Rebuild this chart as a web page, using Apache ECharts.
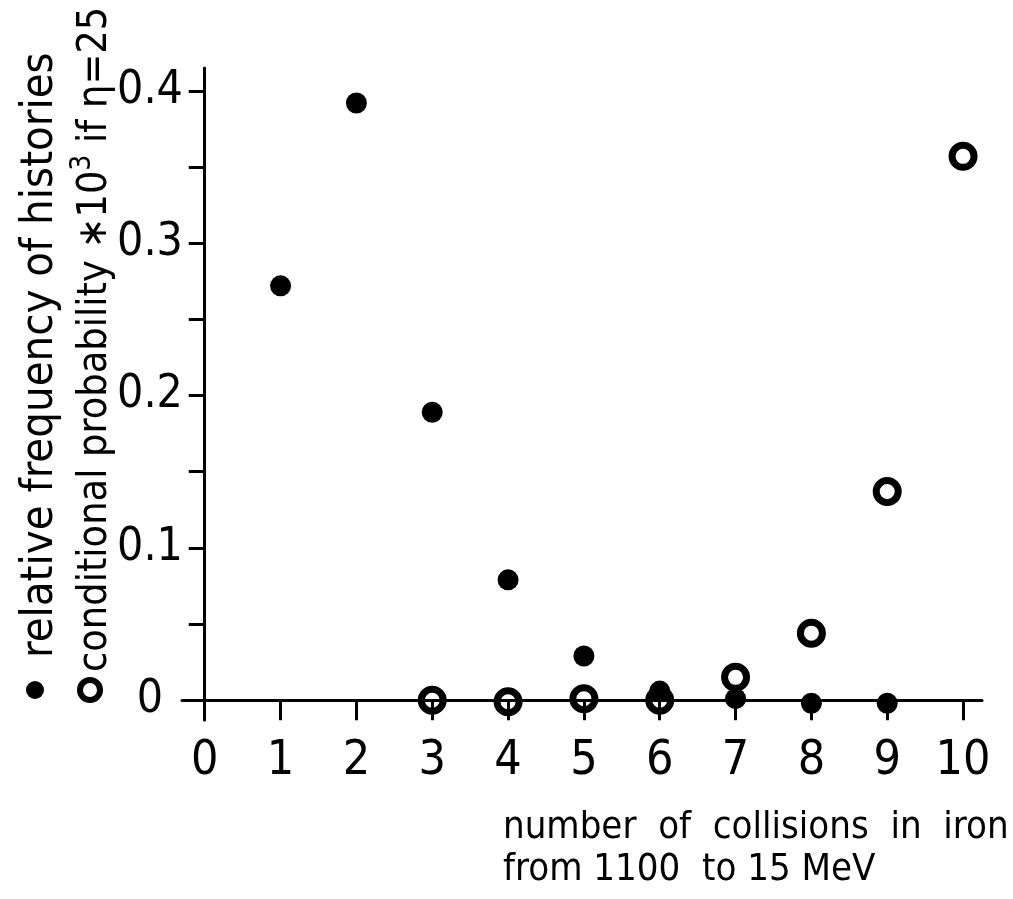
<!DOCTYPE html>
<html>
<head>
<meta charset="utf-8">
<script src="https://cdn.jsdelivr.net/npm/echarts@6/dist/echarts.min.js"></script>
<style>html,body{margin:0;padding:0;background:#fff;}#c{width:1013px;height:899px;}</style>
</head>
<body>
<div id="c"></div>
<script>
// Data
const relFreq = [[1,0.272],[2,0.392],[3,0.189],[4,0.079],[5,0.029],[6,0.006],[7,0.001],[8,-0.002],[9,-0.002]];
const condProb = [[3,0.0],[4,-0.001],[5,0.001],[6,0.0],[7,0.015],[8,0.044],[9,0.137],[10,0.357]];
const xTicks = [0,1,2,3,4,5,6,7,8,9,10];
const yTicks = [0.05,0.1,0.15,0.2,0.25,0.3,0.35,0.4];
const yLabels = [0,0.1,0.2,0.3,0.4];
const legendLine1 = 'relative frequency of histories';
const legendLine2 = 'conditional probability ∗10{sup|3} if η=25';
const xTitle1 = 'number  of  collisions  in  iron';
const xTitle2 = 'from 1100  to 15 MeV';

const FONT = "'DejaVu Sans Condensed','Liberation Sans Narrow',sans-serif";
const chart = echarts.init(document.getElementById('c'), null, {renderer:'canvas'});
chart.setOption({
  backgroundColor:'#fff',
  animation:false,
  grid:{left:182, top:68, width:800, height:652, containLabel:false},
  xAxis:{
    type:'value', min:-0.3, max:10.25,
    axisLine:{onZero:true, lineStyle:{color:'#000', width:3}},
    axisTick:{customValues:xTicks, length:20, lineStyle:{color:'#000', width:3}},
    axisLabel:{customValues:xTicks, margin:18, color:'#000', fontFamily:FONT, fontSize:48},
    splitLine:{show:false}
  },
  yAxis:{
    type:'value', min:-0.013, max:0.415,
    axisLine:{show:true, onZero:true, lineStyle:{color:'#000', width:3}},
    axisTick:{show:true, customValues:yTicks, length:16, lineStyle:{color:'#000', width:3}},
    axisLabel:{customValues:yLabels, margin:32, align:'center', color:'#000', fontFamily:FONT, fontSize:46,
      formatter:v=> v===0 ? '0' : v.toFixed(1)},
    splitLine:{show:false}
  },
  series:[
    {type:'scatter', data:relFreq, symbol:'circle', symbolSize:21, clip:false,
     itemStyle:{color:'#000', opacity:1}},
    {type:'scatter', data:condProb, symbol:'circle', symbolSize:22, clip:false,
     itemStyle:{color:'rgba(0,0,0,0)', borderColor:'#000', borderWidth:7, opacity:1}}
  ],
  graphic:[
    {type:'circle', shape:{cx:35, cy:690, r:9}, style:{fill:'#000'}},
    {type:'circle', shape:{cx:90, cy:690, r:10}, style:{fill:'none', stroke:'#000', lineWidth:6}},
    {type:'text', x:40, y:658, rotation:Math.PI/2,
     style:{text:legendLine1, font:'45px '+FONT, fill:'#000', textAlign:'left', textVerticalAlign:'middle'}},
    {type:'text', x:95, y:672, rotation:Math.PI/2,
     style:{text:legendLine2, fontSize:41, fontFamily:FONT, fill:'#000', textAlign:'left', textVerticalAlign:'middle',
       lineHeight:52,
       rich:{sup:{fontSize:28, fontFamily:FONT, fill:'#000', verticalAlign:'top', lineHeight:52}}}},
    {type:'text', x:503, y:828,
     style:{text:xTitle1, font:'38px '+FONT, fill:'#000', textAlign:'left', textVerticalAlign:'middle'}},
    {type:'text', x:503, y:870,
     style:{text:xTitle2, font:'38px '+FONT, fill:'#000', textAlign:'left', textVerticalAlign:'middle'}}
  ]
});
</script>
</body>
</html>
